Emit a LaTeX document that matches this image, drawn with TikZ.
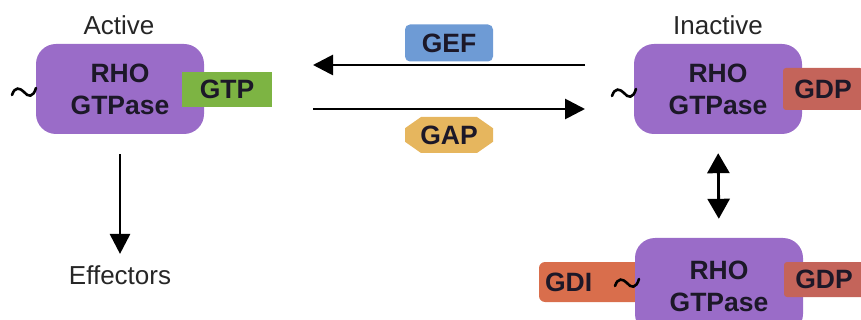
\documentclass[tikz,border=0pt]{standalone}
\usepackage{fontspec}
\setmainfont{Liberation Sans}
\usetikzlibrary{arrows.meta,calc,shapes.misc}

\definecolor{rhopurple}{HTML}{9A6CC8}
\definecolor{gtpgreen}{HTML}{7DB443}
\definecolor{gdpred}{HTML}{C4645A}
\definecolor{gdiorange}{HTML}{D96E4C}
\definecolor{gefblue}{HTML}{6E9BD5}
\definecolor{gapgold}{HTML}{E6B65E}
\definecolor{ink}{HTML}{1C1828}

\tikzset{
  x=1pt, y=-1pt,
  boxfont/.style={font=\fontsize{26.5}{32}\selectfont\bfseries, text=ink},
  labfont/.style={font=\fontsize{26}{30}\selectfont, text=black!85},
  rho/.style={boxfont, fill=rhopurple, rounded corners=20pt, align=center,
    minimum width=168pt, minimum height=90pt, inner sep=0pt},
  tag/.style={boxfont, minimum height=#1, inner sep=0pt},
  conn/.style={line width=2.8pt, -{Triangle[length=20pt,width=20pt]}},
  wave/.pic={\draw[line width=2.6pt, line cap=round]
    (-12,3) .. controls (-9,-6) and (-4,-4) .. (0,0)
            .. controls (4,5) and (9,6) .. (12,-4);}
}

\begin{document}
\begin{tikzpicture}
\useasboundingbox (0,0) rectangle (861,320);
\clip (0,0) rectangle (861,320);

% active form
\node[labfont] (lact) at (119,25) {Active};
\node[rho] (act) at (120,89) {RHO\\GTPase};
\node[tag=35pt, fill=gtpgreen, minimum width=90pt] (gtp) at (227,89.5) {GTP};
\pic at (24,92) {wave};

% inactive form
\node[labfont] (linact) at (718,25) {Inactive};
\node[rho] (inact) at (718,89) {RHO\\GTPase};
\node[tag=42pt, fill=gdpred, minimum width=80pt, rounded corners=3pt] (gdpa) at (823,89) {GDP};
\pic at (624,93) {wave};

% GDI-bound form
\node[tag=40pt, fill=gdiorange, minimum width=100pt, text width=90pt, align=left, inner xsep=6pt, rounded corners=6pt] (gdi) at (590,282) {GDI};
\node[rho, minimum height=96pt] (bound) at (719,286) {RHO\\GTPase};
\node[tag=35pt, fill=gdpred, minimum width=80pt, rounded corners=3pt] (gdpb) at (824,279.5) {GDP};
\pic at (627,283) {wave};

% exchange factors
\node[boxfont, fill=gefblue, rounded corners=5pt, minimum width=88pt, minimum height=37pt, inner sep=0pt] (gef) at (449,43) {GEF};
\node[boxfont, fill=gapgold, chamfered rectangle, chamfered rectangle xsep=11pt, chamfered rectangle angle=55,
  minimum width=88pt, minimum height=36pt, inner sep=0pt] (gap) at (449,135) {GAP};

\coordinate (gefR) at (585,65);
\coordinate (gefL) at (313,65);
\coordinate (gapL) at (313,109);
\coordinate (gapR) at (585,109);
\draw[conn] (gefR) -- (gefL);
\draw[conn] (gapL) -- (gapR);

% effectors
\node[labfont] (eff) at (120,275) {Effectors};
\draw[conn] ($(act.south)+(0,20)$) -- ($(eff.north)+(0,-8)$);

% membrane exchange
\draw[conn, {Triangle[length=20pt,width=22pt]}-{Triangle[length=20pt,width=22pt]}, shorten <=19pt, shorten >=19pt]
  (inact.south) -- (bound.north);
\end{tikzpicture}
\end{document}
